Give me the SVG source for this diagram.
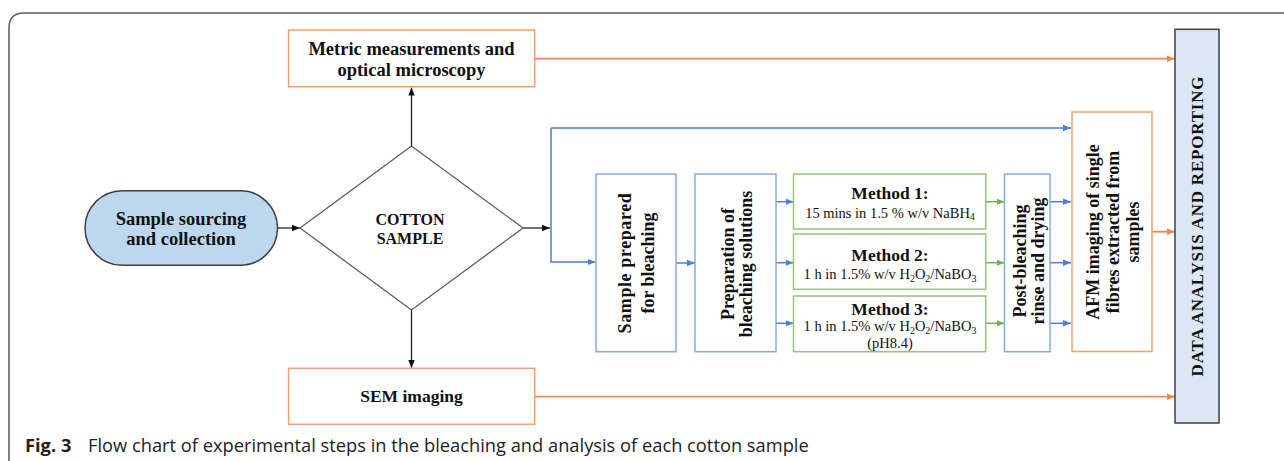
<svg xmlns="http://www.w3.org/2000/svg" width="1284" height="461" viewBox="0 0 1284 461">
<style>
  .frame{fill:none;stroke:#5a5a5a;stroke-width:1.5}
  .ob{fill:#fff;stroke:#f4a06c;stroke-width:1.5}
  .bb{fill:#fff;stroke:#86acdf;stroke-width:1.5}
  .gb{fill:#fff;stroke:#97c47a;stroke-width:1.5}
  .t{font-family:"Liberation Serif",serif;font-weight:bold;fill:#111;text-anchor:middle}
  .s{font-family:"Liberation Serif",serif;fill:#111;text-anchor:middle;font-size:14.5px}
  .k{fill:none;stroke:#222;stroke-width:1.3}
  .bl{fill:none;stroke:#4a7fd2;stroke-width:1.5}
  .gl{fill:none;stroke:#72b04c;stroke-width:1.5}
  .ol{fill:none;stroke:#ee8a4f;stroke-width:1.8}
  .cap{font-family:"Open Sans","Noto Sans",sans-serif;font-size:18.3px;fill:#222}
</style>
<defs>
  <marker id="ak" markerUnits="userSpaceOnUse" markerWidth="8" markerHeight="8" viewBox="0 0 8 8" refX="8" refY="4" orient="auto"><path d="M0,0.8 L8,4 L0,7.2 z" fill="#111"/></marker>
  <marker id="ab" markerUnits="userSpaceOnUse" markerWidth="8" markerHeight="8" viewBox="0 0 8 8" refX="8" refY="4" orient="auto"><path d="M0,0.8 L8,4 L0,7.2 z" fill="#4a7fd2"/></marker>
  <marker id="ag" markerUnits="userSpaceOnUse" markerWidth="8" markerHeight="8" viewBox="0 0 8 8" refX="8" refY="4" orient="auto"><path d="M0,0.8 L8,4 L0,7.2 z" fill="#72b04c"/></marker>
  <marker id="ao" markerUnits="userSpaceOnUse" markerWidth="8" markerHeight="8" viewBox="0 0 8 8" refX="8" refY="4" orient="auto"><path d="M0,0.8 L8,4 L0,7.2 z" fill="#ee8a4f"/></marker>
</defs>
<rect width="1284" height="461" fill="#fff"/>
<path class="frame" d="M9,461 V28 Q9,13 24,13 H1284"/>

<g id="connectors">
  <path class="k" d="M277.5,228 H300" marker-end="url(#ak)"/>
  <path class="k" d="M411.5,146 V87.5" marker-end="url(#ak)"/>
  <path class="k" d="M411.5,310 V368" marker-end="url(#ak)"/>
  <path class="k" d="M523,228 H550" marker-end="url(#ak)"/>
  <path class="bl" d="M551,128 V262 H595.5" marker-end="url(#ab)"/>
  <path class="bl" d="M551,128 H1071" marker-end="url(#ab)"/>
  <path class="bl" d="M676,263 H695" marker-end="url(#ab)"/>
  <path class="bl" d="M776,201.7 H793.5" marker-end="url(#ab)"/>
  <path class="bl" d="M776,262.7 H793.5" marker-end="url(#ab)"/>
  <path class="bl" d="M776,323.3 H793.5" marker-end="url(#ab)"/>
  <path class="gl" d="M986,201.7 H1004.5" marker-end="url(#ag)"/>
  <path class="gl" d="M986,262.7 H1004.5" marker-end="url(#ag)"/>
  <path class="gl" d="M986,323.3 H1004.5" marker-end="url(#ag)"/>
  <path class="bl" d="M1050,201.7 H1071" marker-end="url(#ab)"/>
  <path class="bl" d="M1050,262.7 H1071" marker-end="url(#ab)"/>
  <path class="bl" d="M1050,323.3 H1071" marker-end="url(#ab)"/>
  <path class="ol" d="M1152,231.7 H1175" marker-end="url(#ao)"/>
  <path class="ol" d="M535,58.7 H1175" marker-end="url(#ao)"/>
  <path class="ol" d="M535,396.7 H1175" marker-end="url(#ao)"/>
</g>

<g id="sourcing">
  <rect x="85" y="190.7" width="192.5" height="74.6" rx="37.3" fill="#bdd7ee" stroke="#404040" stroke-width="1.5"/>
  <text class="t" font-size="18.5" x="181" y="225">Sample sourcing</text>
  <text class="t" font-size="18.5" x="181" y="245">and collection</text>
</g>

<g id="cotton">
  <path d="M411.5,146 L523,228 L411.5,310 L300,228 z" fill="#fff" stroke="#5f5f5f" stroke-width="1.3"/>
  <text class="t" font-size="16" x="410" y="224.5">COTTON</text>
  <text class="t" font-size="16" x="410" y="243.5">SAMPLE</text>
</g>

<g id="metric">
  <rect class="ob" x="288.6" y="30" width="246" height="56.7"/>
  <text class="t" font-size="18.5" x="411.5" y="54.5">Metric measurements and</text>
  <text class="t" font-size="18.5" x="411.5" y="76">optical microscopy</text>
</g>

<g id="sem">
  <rect class="ob" x="288.6" y="368.3" width="246" height="56"/>
  <text class="t" font-size="17.5" x="411.5" y="402">SEM imaging</text>
</g>

<g id="prepared">
  <rect class="bb" x="596" y="174" width="80" height="177.7"/>
  <g transform="translate(636,263) rotate(-90)">
    <text class="t" font-size="18" x="0" y="-5.5" letter-spacing="0.6">Sample prepared</text>
    <text class="t" font-size="18" x="0" y="18">for bleaching</text>
  </g>
</g>

<g id="preparation">
  <rect class="bb" x="695" y="174" width="81" height="177.7"/>
  <g transform="translate(735.5,264) rotate(-90)">
    <text class="t" font-size="18" x="0" y="-1.5">Preparation of</text>
    <text class="t" font-size="18" x="0" y="16">bleaching solutions</text>
  </g>
</g>

<g id="method1">
  <rect class="gb" x="793.5" y="174" width="192.2" height="55"/>
  <text class="t" font-size="17.5" x="890" y="199">Method 1:</text>
  <text class="s" x="890" y="217.5">15 mins in 1.5 % w/v NaBH<tspan font-size="10" dy="2.5">4</tspan></text>
</g>

<g id="method2">
  <rect class="gb" x="793.5" y="234" width="192.2" height="55.3"/>
  <text class="t" font-size="17.5" x="890" y="261">Method 2:</text>
  <text class="s" x="890" y="279">1 h in 1.5% w/v H<tspan font-size="10" dy="2.5">2</tspan><tspan dy="-2.5">O</tspan><tspan font-size="10" dy="2.5">2</tspan><tspan dy="-2.5">/NaBO</tspan><tspan font-size="10" dy="2.5">3</tspan></text>
</g>

<g id="method3">
  <rect class="gb" x="793.5" y="296" width="192.2" height="55.7"/>
  <text class="t" font-size="17.5" x="890" y="314.5">Method 3:</text>
  <text class="s" x="890" y="331">1 h in 1.5% w/v H<tspan font-size="10" dy="2.5">2</tspan><tspan dy="-2.5">O</tspan><tspan font-size="10" dy="2.5">2</tspan><tspan dy="-2.5">/NaBO</tspan><tspan font-size="10" dy="2.5">3</tspan></text>
  <text class="s" x="890" y="348">(pH8.4)</text>
</g>

<g id="postbleach">
  <rect class="bb" x="1004.5" y="174" width="45.5" height="177.7"/>
  <g transform="translate(1027,261) rotate(-90)">
    <text class="t" font-size="18" x="0" y="-1">Post-bleaching</text>
    <text class="t" font-size="18" x="0" y="17">rinse and drying</text>
  </g>
</g>

<g id="afm">
  <rect class="ob" x="1072" y="112" width="80" height="239.5"/>
  <g transform="translate(1112,232) rotate(-90)">
    <text class="t" font-size="18" x="0" y="-13">AFM imaging of single</text>
    <text class="t" font-size="18" x="0" y="7">fibres extracted from</text>
    <text class="t" font-size="18" x="0" y="26.5">samples</text>
  </g>
</g>

<g id="data">
  <rect x="1175" y="29.3" width="44" height="393.7" fill="#dbe7f5" stroke="#404040" stroke-width="1.5"/>
  <text class="t" font-size="17" letter-spacing="0.8" transform="translate(1203,226) rotate(-90)" x="0" y="0">DATA ANALYSIS AND REPORTING</text>
</g>

<text class="cap" y="452"><tspan x="25" font-weight="bold">Fig. 3</tspan><tspan x="88">Flow chart of experimental steps in the bleaching and analysis of each cotton sample</tspan></text>
</svg>
